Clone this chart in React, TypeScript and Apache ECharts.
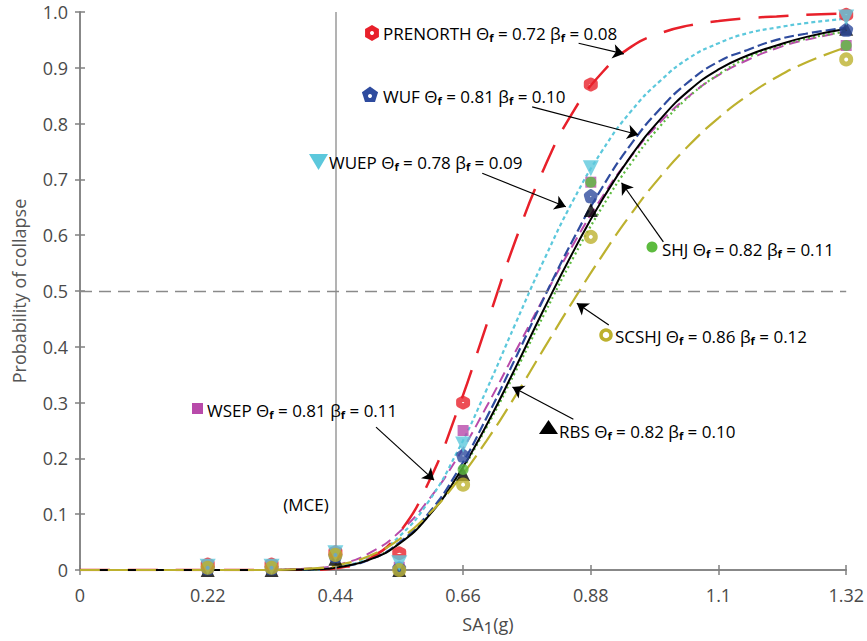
import React, { useEffect, useRef } from "react";
import * as echarts from "echarts";

// Intensity levels of the analysis points (SA1, g)
const LEVELS = [0.22, 0.33, 0.44, 0.55, 0.66, 0.88, 1.32];
// Sample abscissae of the fitted fragility curves
const CURVE_X = [0, 0.3, 0.4, 0.45, 0.5, 0.55, 0.6, 0.65, 0.7, 0.75, 0.8, 0.85, 0.9, 0.95, 1.0, 1.05, 1.1, 1.15, 1.2, 1.25, 1.32];

// Fitted curves
const PRENORTH_CURVE = [0, 0, 0.0005, 0.0045, 0.021, 0.067, 0.156, 0.285, 0.438, 0.59, 0.721, 0.822, 0.892, 0.938, 0.962, 0.976, 0.984, 0.989, 0.992, 0.995, 0.997];
const WUF_CURVE = [0, 0, 0.001, 0.006, 0.019, 0.049, 0.101, 0.176, 0.272, 0.379, 0.489, 0.593, 0.686, 0.764, 0.827, 0.876, 0.911, 0.932, 0.95, 0.961, 0.972];
const WUEP_CURVE = [0, 0, 0.001, 0.007, 0.023, 0.06, 0.122, 0.212, 0.322, 0.441, 0.557, 0.663, 0.752, 0.823, 0.877, 0.918, 0.944, 0.962, 0.972, 0.98, 0.988];
const SHJ_CURVE = [0, 0, 0.001, 0.006, 0.02, 0.048, 0.097, 0.167, 0.255, 0.355, 0.459, 0.56, 0.651, 0.73, 0.796, 0.849, 0.888, 0.918, 0.938, 0.952, 0.965];
const SCSHJ_CURVE = [0, 0, 0.003, 0.01, 0.026, 0.055, 0.099, 0.159, 0.231, 0.312, 0.398, 0.483, 0.564, 0.639, 0.705, 0.762, 0.81, 0.85, 0.883, 0.909, 0.937];
const RBS_CURVE = [0, 0, 0.001, 0.006, 0.019, 0.047, 0.096, 0.168, 0.259, 0.362, 0.469, 0.571, 0.664, 0.743, 0.808, 0.86, 0.897, 0.922, 0.94, 0.955, 0.97];
const WSEP_CURVE = [0, 0, 0.003, 0.011, 0.031, 0.068, 0.125, 0.201, 0.292, 0.391, 0.49, 0.584, 0.669, 0.742, 0.803, 0.85, 0.887, 0.914, 0.935, 0.95, 0.965];

// Observed collapse fractions at each level
const PRENORTH_PTS = [0.01, 0.01, 0.032, 0.03, 0.3, 0.87, 0.995];
const WSEP_PTS = [0.005, 0.005, 0.03, 0.005, 0.25, 0.695, 0.94];
const SHJ_PTS = [0.005, 0.005, 0.028, 0.003, 0.18, 0.695, 0.94];
const SCSHJ_PTS = [0.004, 0.004, 0.027, 0.0, 0.153, 0.597, 0.915];
const WUEP_PTS = [0.006, 0.006, 0.03, 0.012, 0.225, 0.72, 0.99];
const WUF_PTS = [0.003, 0.003, 0.025, 0.003, 0.205, 0.67, 0.968];
const RBS_PTS = [0.0, 0.0, 0.02, 0.0, 0.172, 0.645, 0.97];

const MCE_X = 0.44;
const HALF_Y = 0.5;

// Annotation arrows: [from, to] in data units
const ARROWS = [
  [[0.859, 0.944], [0.937, 0.925]],
  [[0.779, 0.83], [0.962, 0.78]],
  [[0.693, 0.711], [0.837, 0.651]],
  [[1.005, 0.588], [0.933, 0.694]],
  [[0.911, 0.439], [0.856, 0.478]],
  [[0.85, 0.27], [0.745, 0.328]],
  [[0.51, 0.256], [0.61, 0.161]],
];

const C = {
  red: "#E8202A",
  cyan: "#5CC8DC",
  blue: "#2E4B9E",
  magenta: "#B84AAA",
  green: "#5DBB3F",
  olive: "#BDB12E",
  black: "#000000",
};

const FONT = '"Open Sans", "DejaVu Sans", sans-serif';
const HEX = "path://M0,-1 L0.866,-0.5 L0.866,0.5 L0,1 L-0.866,0.5 L-0.866,-0.5 Z";
const PENT = "path://M0,-1 L0.951,-0.309 L0.588,0.809 L-0.588,0.809 L-0.951,-0.309 Z";
const TRI_DOWN = "path://M-1,-0.85 L1,-0.85 L0,0.9 Z";
const TRI_UP = "path://M-1,0.85 L1,0.85 L0,-0.9 Z";

function pairs(xs: number[], ys: number[]) {
  return xs.map((x, i) => [x, ys[i]]);
}

const sub = { fontSize: 11, fontWeight: "bold" as const, padding: [9, 0, 0, 0], fill: "#000", fontFamily: FONT };

function label(x: number, y: number, text: string) {
  return {
    type: "text",
    x,
    y,
    z: 100,
    style: {
      text,
      fill: "#000",
      font: `17px ${FONT}`,
      align: "left",
      verticalAlign: "middle",
      rich: { s: sub },
    },
  };
}

function polyPts(cx: number, cy: number, r: number, n: number, rot: number) {
  const pts: number[][] = [];
  for (let i = 0; i < n; i++) {
    const a = rot + (i * 2 * Math.PI) / n;
    pts.push([cx + r * Math.cos(a), cy + r * Math.sin(a)]);
  }
  return pts;
}

export default function App() {
  const ref = useRef<HTMLDivElement>(null);
  useEffect(() => {
    if (!ref.current) return;
    const chart = echarts.init(ref.current, undefined, { renderer: "svg" });

    const curve = (name: string, data: number[], color: string, type: any, width: number, extra: any = {}) => ({
      name,
      type: "line",
      data: pairs(CURVE_X, data),
      showSymbol: false,
      symbol: "none",
      smooth: 0.5,
      lineStyle: { color, type, width },
      z: 3,
      ...extra,
    });

    const pts = (name: string, data: number[], symbol: string, size: number, style: any, z: number) => ({
      name,
      type: "scatter",
      data: pairs(LEVELS, data),
      symbol,
      symbolSize: size,
      itemStyle: style,
      z,
    });

    const axisLine = { lineStyle: { color: "#808080", width: 1.5 } };
    const axisTick = { inside: true, length: 5, lineStyle: { color: "#808080", width: 1.5 } };

    chart.setOption({
      animation: false,
      backgroundColor: "#fff",
      grid: { left: 80, right: 19, top: 12, bottom: 71 },
      xAxis: [
        {
          type: "value",
          min: 0,
          max: 1.32,
          interval: 0.22,
          axisLine,
          axisTick,
          splitLine: { show: false },
          axisLabel: {
            color: "#4a4a4a",
            fontSize: 18,
            fontFamily: FONT,
            margin: 16,
            formatter: (v: number) => String(parseFloat(v.toFixed(2))),
          },
        },
        {
          type: "value",
          position: "top",
          min: 0,
          max: 1.32,
          interval: 0.22,
          axisLine,
          axisTick,
          splitLine: { show: false },
          axisLabel: { show: false },
        },
      ],
      yAxis: [
        {
          type: "value",
          min: 0,
          max: 1,
          interval: 0.1,
          axisLine,
          axisTick,
          splitLine: { show: false },
          name: "Probability of collapse",
          nameLocation: "middle",
          nameGap: 52,
          nameTextStyle: { color: "#555", fontSize: 18, fontFamily: FONT },
          axisLabel: {
            color: "#4a4a4a",
            fontSize: 18,
            fontFamily: FONT,
            margin: 12,
            formatter: (v: number) => (v === 0 ? "0" : v.toFixed(1)),
          },
        },
        {
          type: "value",
          position: "right",
          min: 0,
          max: 1,
          interval: 0.1,
          axisLine,
          axisTick,
          splitLine: { show: false },
          axisLabel: { show: false },
        },
      ],
      series: [
        curve("WSEP", WSEP_CURVE, C.magenta, [11, 6], 2, {
          markLine: {
            silent: true,
            symbol: ["none", "none"],
            label: { show: false },
            data: [
              { xAxis: MCE_X, lineStyle: { color: "#9a9a9a", type: "solid", width: 1.5 } },
              { yAxis: HALF_Y, lineStyle: { color: "#8a8a8a", type: [12, 7], width: 1.3 } },
            ],
          },
        }),
        curve("SHJ", SHJ_CURVE, C.green, [2, 3], 2.2),
        curve("WUF", WUF_CURVE, C.blue, [10, 4], 2.2),
        curve("WUEP", WUEP_CURVE, C.cyan, [4, 3], 2.2),
        curve("PRENORTH", PRENORTH_CURVE, C.red, [30, 18], 2.5),
        curve("RBS", RBS_CURVE, C.black, "solid", 2, {
          markLine: {
            silent: true,
            symbol: ["none", "arrow"],
            symbolSize: 11,
            label: { show: false },
            lineStyle: { color: "#000", type: "solid", width: 1.2 },
            data: ARROWS.map(([a, b]) => [{ coord: a }, { coord: b }]),
          },
        }),
        curve("SCSHJ", SCSHJ_CURVE, C.olive, [20, 8], 2.2),
        pts("RBS pts", RBS_PTS, TRI_UP, 14, { color: C.black }, 5),
        pts("WSEP pts", WSEP_PTS, "rect", 11, { color: C.magenta }, 5),
        pts("SHJ pts", SHJ_PTS, "circle", 11, { color: C.green }, 6),
        pts("WUF pts", WUF_PTS, PENT, 8, { color: "rgba(0,0,0,0)", borderColor: C.blue, borderWidth: 6, borderJoin: "round" }, 6),
        pts("PRENORTH pts", PRENORTH_PTS, HEX, 8, { color: "rgba(0,0,0,0)", borderColor: C.red, borderWidth: 6, borderJoin: "round" }, 7),
        pts("WUEP pts", WUEP_PTS, TRI_DOWN, 16, { color: C.cyan }, 7),
        pts("SCSHJ pts", SCSHJ_PTS, "circle", 9, { color: "rgba(0,0,0,0)", borderColor: C.olive, borderWidth: 5 }, 8),
      ],
      graphic: [
        // PRENORTH
        { type: "polygon", z: 100, shape: { points: polyPts(372, 33, 8, 6, -Math.PI / 2) }, style: { fill: C.red } },
        { type: "circle", z: 101, shape: { cx: 372, cy: 33, r: 2 }, style: { fill: "#fff" } },
        label(383, 33, "PRENORTH Θ{s|f} = 0.72 β{s|f} = 0.08"),
        // WUF
        { type: "polygon", z: 100, shape: { points: polyPts(370, 95, 8.5, 5, -Math.PI / 2) }, style: { fill: C.blue } },
        { type: "circle", z: 101, shape: { cx: 370, cy: 96, r: 2 }, style: { fill: "#fff" } },
        label(383, 96, "WUF Θ{s|f} = 0.81 β{s|f} = 0.10"),
        // WUEP
        { type: "polygon", z: 100, shape: { points: [[309, 154], [328, 154], [318.5, 170]] }, style: { fill: C.cyan } },
        label(329, 162, "WUEP Θ{s|f} = 0.78 β{s|f} = 0.09"),
        // SHJ
        { type: "circle", z: 100, shape: { cx: 652, cy: 247, r: 5.5 }, style: { fill: C.green } },
        label(662, 249, "SHJ Θ{s|f} = 0.82 β{s|f} = 0.11"),
        // SCSHJ
        { type: "circle", z: 100, shape: { cx: 606, cy: 335, r: 5 }, style: { fill: "#fff", stroke: C.olive, lineWidth: 3.5 } },
        label(615, 336, "SCSHJ Θ{s|f} = 0.86 β{s|f} = 0.12"),
        // RBS
        { type: "polygon", z: 100, shape: { points: [[539, 434], [558, 434], [548.5, 420]] }, style: { fill: C.black } },
        label(559, 431, "RBS Θ{s|f} = 0.82 β{s|f} = 0.10"),
        // WSEP
        { type: "rect", z: 100, shape: { x: 192, y: 403, width: 11, height: 11 }, style: { fill: C.magenta } },
        label(207, 410, "WSEP Θ{s|f} = 0.81 β{s|f} = 0.11"),
        // MCE
        { type: "text", x: 306, y: 504, z: 100, style: { text: "(MCE)", fill: "#000", font: `17px ${FONT}`, align: "center", verticalAlign: "middle" } },
        // x axis name
        {
          type: "text",
          x: 488,
          y: 624,
          z: 100,
          style: {
            text: "SA{d|1}(g)",
            fill: "#4a4a4a",
            font: `18px ${FONT}`,
            align: "center",
            verticalAlign: "middle",
            rich: { d: { fontSize: 17, fill: "#4a4a4a", fontFamily: FONT, padding: [7, 0, 0, 0] } },
          },
        },
      ],
    });
    return () => chart.dispose();
  }, []);
  return <div ref={ref} style={{ position: "absolute", left: 0, top: 0, width: 867, height: 641 }} />;
}
